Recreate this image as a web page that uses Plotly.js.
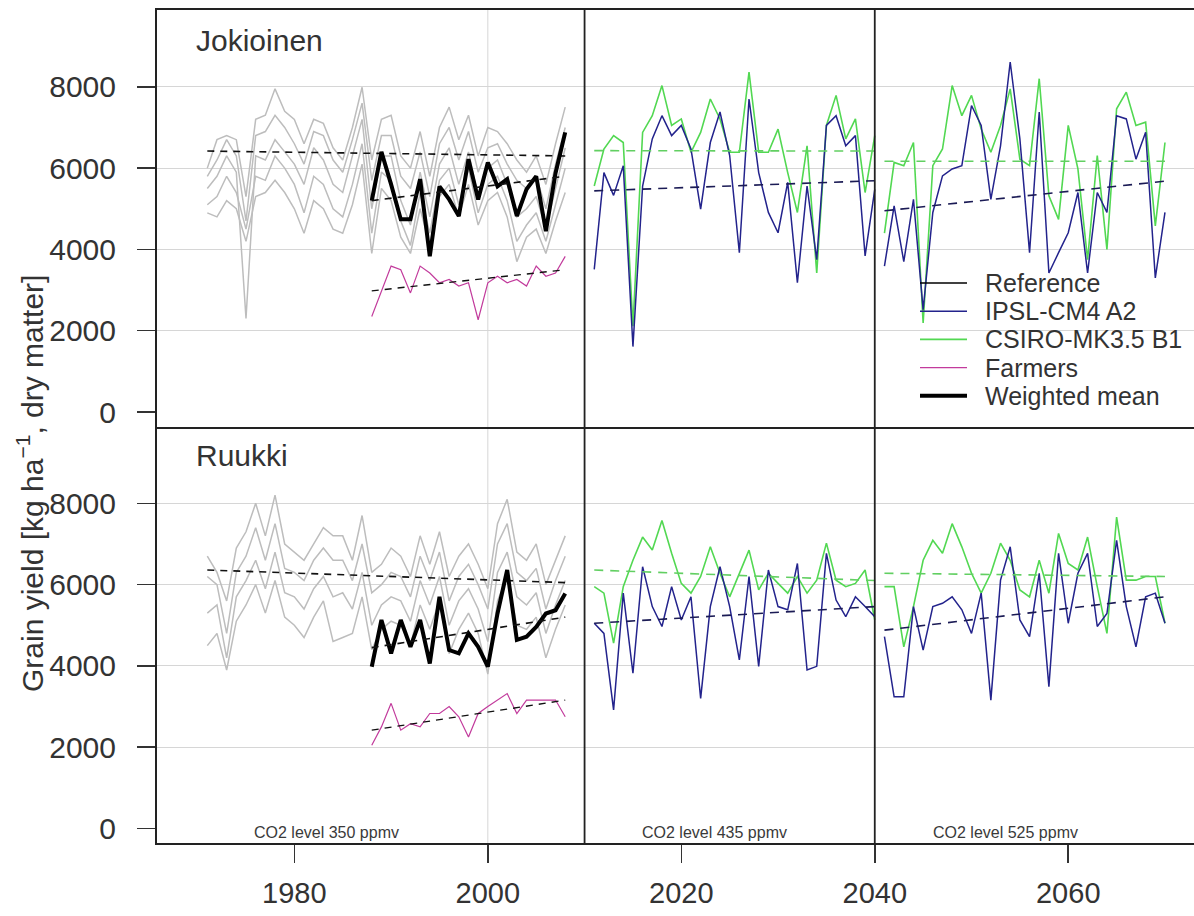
<!DOCTYPE html>
<html><head><meta charset="utf-8">
<script src="https://cdn.plot.ly/plotly-3.0.1.min.js"></script>
<style>html,body{margin:0;padding:0;background:#fff;overflow:hidden}</style>
</head><body><div id="chart" style="width:1194px;height:916px"></div>
<script>
function yrs(a,b){const r=[];for(let y=a;y<=b;y++)r.push(y);return r;}
const histYears = yrs(1971,2008);
const obsYears  = yrs(1988,2008);
const fut1Years = yrs(2011,2040);
const fut2Years = yrs(2041,2070);
const histTrendYears = [1971,2008];
const obsTrendYears  = [1988,2008];
const fut1TrendYears = [2011,2040];
const fut2TrendYears = [2041,2070];

// ---------- Jokioinen ----------
const jokGray1 = [6000,6700,6800,6700,5300,7200,7300,7950,7400,7200,6600,7200,7100,6500,6200,7000,7990,6200,7200,7300,6300,6000,6900,5800,7000,7500,6700,7300,6300,7000,6900,6600,6200,5900,6300,5600,6600,7500];
const jokGray2 = [5800,6200,6700,6300,4700,6800,6900,7300,7000,6600,6100,6900,6800,6200,5900,6700,7600,5700,6800,6800,5800,5500,6400,5300,6600,7000,6200,6900,5900,6500,6600,6100,5700,5500,5800,5000,6100,7000];
const jokGray3 = [5500,5800,6300,5900,2300,6300,6200,6700,6400,6100,5600,6500,6200,5600,5400,6300,7200,5000,6300,6300,5200,4600,5900,4800,6100,6500,5600,6400,5300,6000,6200,5600,4800,5000,5300,4500,5500,6500];
const jokGray4 = [5100,5300,5800,5400,4500,5800,5700,6300,6000,5600,4900,5800,5600,5000,4800,5600,6600,4400,5900,5700,4700,4100,5400,4400,5700,6000,5100,6000,4900,5600,5800,5200,4200,4600,4900,4200,5100,6000];
const jokGray5 = [4900,4800,5200,5000,4200,5300,5400,5700,5400,5000,4400,5200,5000,4500,4400,5100,6100,3900,5500,5200,4300,3900,5000,4100,5300,5600,4800,5600,4600,5200,5400,4800,3700,4300,4500,3900,4700,5400];
const jokWeighted = [5200,6400,5600,4740,4740,5730,3830,5550,5230,4820,6220,5230,6140,5550,5730,4820,5480,5800,4450,5880,6880];
const jokFarmers  = [2350,2980,3590,3500,2930,3590,3420,3180,3260,3100,3180,2270,3180,3340,3180,3260,3100,3590,3340,3420,3830];
const jokIpsl1  = [3510,5890,5330,6060,1610,5560,6720,7290,6800,7050,6470,4990,6630,7380,6310,3920,7700,5890,4910,4410,5650,3180,5560,3750,7050,7290,6550,6800,3840,5480];
const jokCsiro1 = [5560,6470,6800,6630,2110,6880,7290,8030,7050,7210,6390,6880,7700,7210,6390,6390,8360,6390,6390,6960,5890,4910,6550,3420,7050,7790,6720,7210,5400,6800];
const jokIpsl2  = [3590,5070,3700,5230,2520,4910,5810,5980,6060,7540,7050,5230,6550,8610,6720,3920,7380,3420,3920,4410,5400,3420,5400,4910,7290,7210,6220,6880,3300,4910];
const jokCsiro2 = [4400,6140,6060,6630,2190,6060,6470,8030,7290,7790,6960,6390,7050,7950,6220,6060,8200,5320,4740,7050,5980,3750,6310,4000,7460,7870,7050,7130,4580,6630];
const jokHistTrend = [6420,6300];
const jokWeightedTrend = [5200,5800];
const jokFarmersTrend = [2980,3500];
const jokIpsl1Trend = [5440,5690];
const jokCsiro1Trend = [6430,6420];
const jokIpsl2Trend = [4950,5680];
const jokCsiro2Trend = [6170,6170];

// ---------- Ruukki ----------
const ruuGray1 = [6700,6300,5600,6900,7300,8000,7200,8200,7000,6800,6600,7000,7400,7200,7200,6600,7700,6300,6500,6900,6700,6200,7200,6500,7300,6200,6700,7000,6500,5900,7500,8100,6800,6600,7000,6000,6600,7200];
const ruuGray2 = [6200,6000,4800,6300,6700,7400,6600,7500,6400,6300,6100,6600,6900,6600,6600,6100,7000,5800,6000,6300,6200,5700,6700,6100,6800,5600,6200,6500,6000,5400,7000,7500,6300,6100,6400,5400,6100,6700];
const ruuGray3 = [5300,5500,4200,5700,6100,6600,5900,6800,5800,5700,5400,5900,6200,5700,5800,5400,6300,5000,5500,5700,5600,5100,6100,5500,6200,5000,5600,5900,5400,4600,6300,6800,5700,5500,5800,4800,5500,6100];
const ruuGray4 = [4500,4800,3900,5100,5500,6000,5300,6100,5200,5000,4700,5200,5600,4600,4700,4800,5700,4400,4900,5100,5000,4500,5500,4900,5600,4300,4900,5300,4800,3800,5600,6200,5000,4900,5200,4200,4900,5500];
const ruuWeighted = [3980,5130,4310,5130,4470,5130,4060,5700,4390,4310,4800,4470,3980,5290,6360,4640,4720,4960,5290,5370,5780];
const ruuFarmers  = [2050,2500,3080,2420,2580,2500,2830,2830,3000,2750,2250,2830,3000,3160,3320,2830,3160,3160,3160,3160,2750];
const ruuIpsl1  = [5050,4800,2920,5790,3820,6440,5460,4970,5950,5130,5700,3200,5460,6440,5460,4150,6200,3990,6360,5460,5380,6520,3900,3990,6770,5620,5210,5700,5460,5210];
const ruuCsiro1 = [5950,5790,4560,5950,6600,7170,6850,7580,6770,6030,5790,6200,6930,6280,5700,6280,6850,5870,6280,6030,5790,6200,5790,6110,7020,6110,5950,6030,6360,5130];
const ruuIpsl2  = [4720,3240,3240,5460,4390,5460,5540,5700,5380,4800,5790,3160,6110,6930,5130,4720,6280,3490,6770,5050,6280,6770,4970,5290,7090,5460,4470,5700,5790,5050];
const ruuCsiro2 = [5950,5950,4470,5460,6600,7090,6770,7500,6930,6280,5790,6280,7020,6600,5870,5700,6600,5790,7260,6520,6360,7170,5950,4800,7660,6110,6110,6200,6200,5050];
const ruuHistTrend = [6360,6050];
const ruuWeightedTrend = [4450,5200];
const ruuFarmersTrend = [2420,3160];
const ruuIpsl1Trend = [5050,5460];
const ruuCsiro1Trend = [6360,6100];
const ruuIpsl2Trend = [4880,5700];
const ruuCsiro2Trend = [6280,6200];

// ---------- text ----------
const panelNames = ['Jokioinen','Ruukki'];
const co2Labels = ['CO2 level 350 ppmv','CO2 level 435 ppmv','CO2 level 525 ppmv'];
const co2LabelYears = [1983.3,2023.4,2053.5];
const legendNames = ['Reference','IPSL-CM4 A2','CSIRO-MK3.5 B1','Farmers','Weighted mean'];
const xTicks = [1980,2000,2020,2040,2060];
const yTicks = [0,2000,4000,6000,8000];
const periodBreaks = [2010,2040];

const C = {gray:'#bdbdbd', ipsl:'#23238c', csiro:'#52d852', farm:'#c23b9c', black:'#000000',
           dashBlack:'#111111', dashBlue:'#1b1b55', dashGreen:'#62cf62'};
const legendStyles = [
  {color:'#000000',width:1.3},{color:C.ipsl,width:1.5},{color:C.csiro,width:1.6},
  {color:C.farm,width:1.3},{color:C.black,width:4}];

const traces = [];
function add(x,y,color,width,dash,xa,ya){
  traces.push({type:'scatter',mode:'lines',x:x,y:y,xaxis:xa,yaxis:ya,
    line:{color:color,width:width,dash:dash||'solid'},showlegend:false,hoverinfo:'skip'});
}
function panel(xa,ya,d){
  d.gray.forEach(g=>add(histYears,g,C.gray,1.5,null,xa,ya));
  add(histTrendYears,d.histTrend,C.dashBlack,1.6,'7px,6px',xa,ya);
  add(obsYears,d.farm,C.farm,1.2,null,xa,ya);
  add(obsTrendYears,d.farmTrend,C.dashBlack,1.4,'7px,6px',xa,ya);
  add(obsYears,d.wm,C.black,4,null,xa,ya);
  add(obsTrendYears,d.wmTrend,C.dashBlack,1.6,'7px,6px',xa,ya);
  add(fut1Years,d.csiro1,C.csiro,1.6,null,xa,ya);
  add(fut2Years,d.csiro2,C.csiro,1.6,null,xa,ya);
  add(fut1Years,d.ipsl1,C.ipsl,1.5,null,xa,ya);
  add(fut2Years,d.ipsl2,C.ipsl,1.5,null,xa,ya);
  add(fut1TrendYears,d.csiro1T,C.dashGreen,1.6,'9px,7px',xa,ya);
  add(fut2TrendYears,d.csiro2T,C.dashGreen,1.6,'9px,7px',xa,ya);
  add(fut1TrendYears,d.ipsl1T,C.dashBlue,1.6,'9px,7px',xa,ya);
  add(fut2TrendYears,d.ipsl2T,C.dashBlue,1.6,'9px,7px',xa,ya);
}
panel('x2','y2',{gray:[jokGray1,jokGray2,jokGray3,jokGray4,jokGray5],histTrend:jokHistTrend,
  farm:jokFarmers,farmTrend:jokFarmersTrend,wm:jokWeighted,wmTrend:jokWeightedTrend,
  csiro1:jokCsiro1,csiro2:jokCsiro2,ipsl1:jokIpsl1,ipsl2:jokIpsl2,
  csiro1T:jokCsiro1Trend,csiro2T:jokCsiro2Trend,ipsl1T:jokIpsl1Trend,ipsl2T:jokIpsl2Trend});
panel('x','y',{gray:[ruuGray1,ruuGray2,ruuGray3,ruuGray4],histTrend:ruuHistTrend,
  farm:ruuFarmers,farmTrend:ruuFarmersTrend,wm:ruuWeighted,wmTrend:ruuWeightedTrend,
  csiro1:ruuCsiro1,csiro2:ruuCsiro2,ipsl1:ruuIpsl1,ipsl2:ruuIpsl2,
  csiro1T:ruuCsiro1Trend,csiro2T:ruuCsiro2Trend,ipsl1T:ruuIpsl1Trend,ipsl2T:ruuIpsl2Trend});

const FONT = 'Liberation Sans, Arial, sans-serif';
const W = 1194, H = 916, M = {l:157,r:0,t:10,b:73};
const PW = W-M.l-M.r, PH = H-M.t-M.b;
const px2x = px => (px-M.l)/PW;
const px2y = py => (H-M.b-py)/PH;

const xRange = [1965.8,2073.0];
const yRange = [-356,9890];
const yAxisBase = {range:yRange,tickvals:yTicks,ticks:'outside',ticklen:18,tickwidth:1.5,tickcolor:'#333',
  ticklabelstandoff:15,tickfont:{family:FONT,size:30,color:'#333'},showgrid:true,gridcolor:'#d6d6d6',gridwidth:1,
  zeroline:true,zerolinecolor:'rgba(0,0,0,0)',showline:true,linecolor:'#222',linewidth:2,mirror:false,fixedrange:true};

const shapes = [];
shapes.push({type:'line',xref:'x',yref:'paper',x0:2000,x1:2000,y0:0,y1:1,layer:'below',line:{color:'#d6d6d6',width:1}});
periodBreaks.forEach(b=>shapes.push({type:'line',xref:'x',yref:'paper',x0:b,x1:b,y0:0,y1:1,layer:'above',line:{color:'#222',width:1.8}}));

const annotations = [
  {xref:'paper',yref:'paper',x:px2x(194),y:px2y(40),xanchor:'left',yanchor:'middle',showarrow:false,text:panelNames[0],font:{family:FONT,size:30,color:'#333'}},
  {xref:'paper',yref:'paper',x:px2x(194),y:px2y(455),xanchor:'left',yanchor:'middle',showarrow:false,text:panelNames[1],font:{family:FONT,size:30,color:'#333'}},
  {xref:'paper',yref:'paper',x:px2x(30),y:px2y(484),xanchor:'center',yanchor:'middle',showarrow:false,textangle:-90,
   text:'Grain yield [kg ha<sup>−1</sup>, dry matter]',font:{family:FONT,size:30,color:'#333'}}
];
co2Labels.forEach((t,i)=>annotations.push({xref:'x',yref:'paper',x:co2LabelYears[i],y:px2y(832),xanchor:'center',yanchor:'middle',
  showarrow:false,text:t,font:{family:FONT,size:16,color:'#3a3a3a'}}));

// legend (key lines + labels) inside the upper panel
const legTop = 283, legStep = 28.2;
legendNames.forEach((name,i)=>{
  const py = legTop + i*legStep;
  shapes.push({type:'line',xref:'paper',yref:'paper',x0:px2x(920),x1:px2x(967),y0:px2y(py),y1:px2y(py),
    layer:'above',line:{color:legendStyles[i].color,width:legendStyles[i].width}});
  annotations.push({xref:'paper',yref:'paper',x:px2x(983),y:px2y(py),xanchor:'left',yanchor:'middle',showarrow:false,
    text:name,font:{family:FONT,size:25,color:'#333'}});
});

const layout = {
  width:W,height:H,margin:M,
  paper_bgcolor:'#fff',plot_bgcolor:'#fff',
  showlegend:false,
  xaxis:{domain:[0,1],anchor:'y',range:xRange,tickvals:xTicks,ticks:'outside',ticklen:18,tickwidth:1.5,tickcolor:'#333',
    ticklabelstandoff:5,tickfont:{family:FONT,size:29,color:'#333'},showgrid:false,zeroline:false,
    showline:true,linecolor:'#222',linewidth:2,mirror:false,fixedrange:true},
  xaxis2:{domain:[0,1],anchor:'y2',range:xRange,showticklabels:false,ticks:'',showgrid:false,zeroline:false,
    showline:true,linecolor:'#222',linewidth:2.5,mirror:true,fixedrange:true},
  yaxis:Object.assign({},yAxisBase,{domain:[0,0.5],anchor:'x'}),
  yaxis2:Object.assign({},yAxisBase,{domain:[0.5,1],anchor:'x2'}),
  shapes:shapes,annotations:annotations
};
Plotly.newPlot('chart',traces,layout,{staticPlot:true,displayModeBar:false});
</script></body></html>
